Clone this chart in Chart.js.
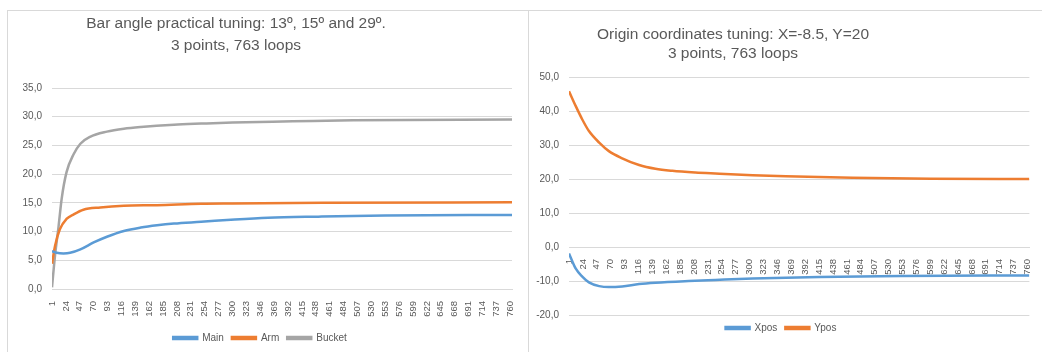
<!DOCTYPE html>
<html lang="en">
<head>
  <meta charset="UTF-8">
  <title>Bar angle and origin tuning</title>
  <script src="https://cdn.jsdelivr.net/npm/chart.js"></script>
  <style>
    * {
      margin: 0;
      padding: 0;
      box-sizing: border-box;
    }

    body {
      width: 1042px;
      height: 352px;
      background: #fff;
      position: relative;
      overflow: hidden;
      font-family: 'Liberation Sans', Arial, sans-serif;
    }

    .panel {
      position: absolute;
      border: 1px solid #d9d9d9;
      border-bottom: none;
      background: #fff;
    }

    .panel canvas {
      position: absolute;
      left: 0;
      top: 0;
    }

    .title {
      position: absolute;
      width: 400px;
      text-align: center;
      color: #595959;
      font-size: 15.5px;
      z-index: 2;
    }
  </style>
</head>
<body>
  <div class="panel" style="left:7px; top:10px; width:522px; height:344px;">
    <div class="title" style="left:28px; top:1px; line-height:22px;">
      Bar angle practical tuning: 13º, 15º and 29º.<br>3 points, 763 loops
    </div>
    <canvas id="angleChart" width="520" height="342"></canvas>
  </div>
  <div class="panel" style="left:528px; top:10px; width:516px; height:344px;">
    <div class="title" style="left:4px; top:13px; line-height:19px;">
      Origin coordinates tuning: X=-8.5, Y=20<br>3 points, 763 loops
    </div>
    <canvas id="originChart" width="514" height="342"></canvas>
  </div>

  <script>
    // x axis labels (every 23rd loop)
    const loopTicks = [1, 24, 47, 70, 93, 116, 139, 162, 185, 208, 231, 254, 277, 300, 323, 346, 369,
      392, 415, 438, 461, 484, 507, 530, 553, 576, 599, 622, 645, 668, 691, 714, 737, 760];
    const angleTicks = [0, 5, 10, 15, 20, 25, 30, 35];
    const originTicks = [-20, -10, 0, 10, 20, 30, 40, 50];

    // bar angles
    const mainLoops = [1, 9, 20, 31, 48, 70, 92, 120, 148, 175, 203, 248, 304, 359, 442, 553, 763];
    const mainValues = [6.6, 6.3, 6.2, 6.3, 6.9, 8.1, 9.1, 10.1, 10.7, 11.1, 11.4, 11.7, 12.1, 12.4, 12.6, 12.8, 12.9];

    const armLoops = [1, 6, 14, 25, 37, 53, 81, 120, 175, 248, 300, 450, 763];
    const armValues = [4.4, 7.5, 10.4, 12.2, 13.0, 13.8, 14.2, 14.5, 14.6, 14.85, 14.9, 15.0, 15.1];

    const bucketLoops = [1, 6, 12, 17, 25, 37, 48, 64, 92, 120, 148, 203, 248, 300, 400, 500, 763];
    const bucketValues = [0.3, 5.8, 11.0, 15.7, 20.3, 23.5, 25.3, 26.5, 27.4, 27.9, 28.2, 28.6, 28.8, 29.0, 29.2, 29.4, 29.5];

    // origin coordinates
    const xposLoops = [1, 12, 23, 34, 51, 67, 89, 117, 144, 199, 243, 305, 415, 550, 763];
    const xposValues = [-1.9, -6.3, -8.7, -10.4, -11.5, -11.8, -11.6, -10.9, -10.5, -10.0, -9.7, -9.3, -8.8, -8.5, -8.4];

    const yposLoops = [1, 12, 23, 34, 51, 67, 89, 117, 144, 172, 210, 243, 305, 360, 470, 600, 763];
    const yposValues = [45.8, 41.5, 37.5, 34.1, 30.7, 28.2, 26.1, 24.1, 23.0, 22.4, 21.9, 21.6, 21.1, 20.8, 20.4, 20.1, 20.0];

    const BLUE = '#5b9bd5';
    const ORANGE = '#ed7d31';
    const GRAY = '#a5a5a5';
    const GRID = '#d9d9d9';
    const TEXT = '#595959';
    const FONT = "'Liberation Sans', Arial, sans-serif";

    function points(xs, ys) {
      return xs.map((x, i) => ({ x: x, y: ys[i] }));
    }

    function series(label, xs, ys, color) {
      return {
        label: label,
        data: points(xs, ys),
        borderColor: color,
        backgroundColor: color,
        borderWidth: 2.5,
        pointRadius: 0,
        cubicInterpolationMode: 'monotone',
        fill: false
      };
    }

    const comma = v => Number(v).toFixed(1).replace('.', ',');

    function options(yTicks, yWidth, xHeight, xPosition, padding) {
      return {
        responsive: false,
        animation: false,
        layout: { padding: padding },
        plugins: {
          title: { display: false },
          tooltip: { enabled: false },
          legend: {
            position: 'bottom',
            labels: {
              boxWidth: 24,
              boxHeight: 2,
              padding: 8,
              color: TEXT,
              font: { family: FONT, size: 10 }
            }
          }
        },
        scales: {
          x: {
            type: 'linear',
            position: xPosition,
            min: 1,
            max: 763,
            afterBuildTicks: s => { s.ticks = loopTicks.map(v => ({ value: v })); },
            afterFit: s => { s.height = xHeight; },
            grid: { display: false },
            border: { display: true, color: GRID, width: 1 },
            ticks: {
              autoSkip: false,
              minRotation: 90,
              maxRotation: 90,
              padding: 4,
              color: TEXT,
              font: { family: FONT, size: 9.5 },
              callback: v => String(v)
            }
          },
          y: {
            min: yTicks[0],
            max: yTicks[yTicks.length - 1],
            afterBuildTicks: s => { s.ticks = yTicks.map(v => ({ value: v })); },
            afterFit: s => { s.width = yWidth; },
            grid: { color: GRID, lineWidth: 1, drawTicks: false },
            border: { display: false },
            ticks: {
              padding: 10,
              color: TEXT,
              font: { family: FONT, size: 10 },
              callback: comma
            }
          }
        }
      };
    }

    new Chart(document.getElementById('angleChart'), {
      type: 'line',
      data: {
        datasets: [
          series('Main', mainLoops, mainValues, BLUE),
          series('Arm', armLoops, armValues, ORANGE),
          series('Bucket', bucketLoops, bucketValues, GRAY)
        ]
      },
      options: options(angleTicks, 44, 36, 'bottom', { top: 77, left: 0, right: 16, bottom: 0 })
    });

    new Chart(document.getElementById('originChart'), {
      type: 'line',
      data: {
        datasets: [
          series('Xpos', xposLoops, xposValues, BLUE),
          series('Ypos', yposLoops, yposValues, ORANGE)
        ]
      },
      options: options(originTicks, 40, 0, { y: 0 }, { top: 66, left: 0, right: 10, bottom: 10 })
    });
  </script>
</body>
</html>
